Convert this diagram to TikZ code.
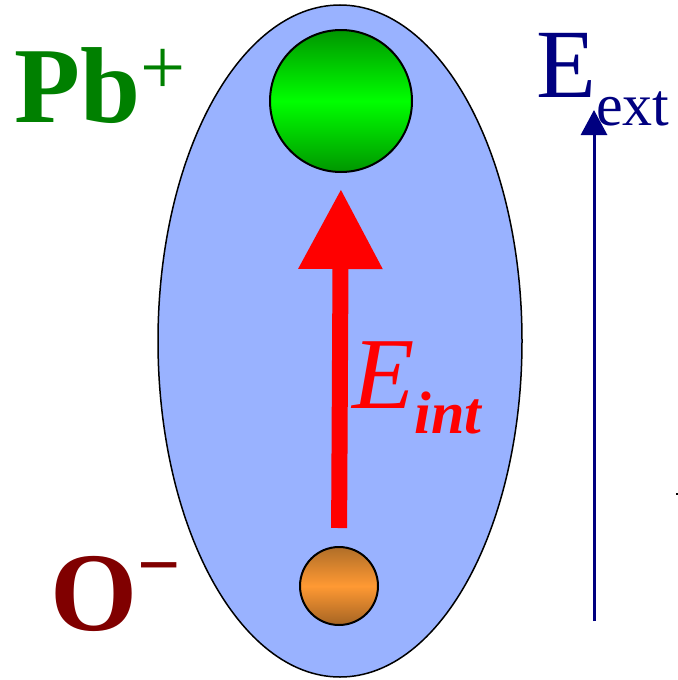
\documentclass[tikz,border=0pt]{standalone}
\usepackage{fontspec}
\setmainfont{Liberation Serif}
\usetikzlibrary{arrows.meta}
\definecolor{cellblue}{RGB}{153,178,255}
\definecolor{pbgreen}{RGB}{0,128,0}
\definecolor{oxred}{RGB}{128,0,0}
\definecolor{extnavy}{RGB}{0,0,128}
\begin{document}
\begin{tikzpicture}[x=0.5pt,y=-0.5pt,
    ion/.style={circle,draw=black,line width=1pt,inner sep=0pt},
    eint/.style={red,line width=8pt,-{Triangle[length=40pt,width=40pt]}},
    eext/.style={extnavy,line width=1.5pt,-{Triangle[length=12.5pt,width=13pt]}}]
    \useasboundingbox (0,0) rectangle (678,680);

    % Dipol-Zelle und Ionen.
    \draw[fill=cellblue,line width=0.75pt] (340,341) ellipse (182 and 336);
    \node[ion,minimum size=71pt,top color={rgb,255:red,0;green,150;blue,0},
        bottom color={rgb,255:red,0;green,150;blue,0},
        middle color={rgb,255:red,0;green,255;blue,0}] (pbion) at (341,101) {};
    \node[ion,minimum size=39pt,top color={rgb,255:red,176;green,110;blue,40},
        bottom color={rgb,255:red,165;green,100;blue,35},
        middle color={rgb,255:red,255;green,153;blue,51}] (oion) at (339,586) {};

    \node[anchor=base west,inner sep=0pt,text=pbgreen,font=\fontsize{54}{54}\selectfont\bfseries]
        (pblabel) at (14,122) {Pb\raisebox{14pt}{\fontsize{40}{40}\selectfont\mdseries +}};
    \node[anchor=base west,inner sep=0pt,text=oxred,font=\fontsize{56}{56}\selectfont\bfseries]
        (olabel) at (50,630) {O\raisebox{20pt}{\fontsize{38}{38}\selectfont −}};

    % Inneres Feld.
    \draw[eint,shorten <=9pt,shorten >=8pt] (oion.north) -- (pbion.south);
    \node[anchor=base west,inner sep=0pt,text=red,font=\fontsize{51}{51}\selectfont\itshape]
        (eintlabel) at (352,408) {E\raisebox{-12.5pt}{\fontsize{30}{30}\selectfont\bfseries int}};

    % Aeusseres Feld.
    \coordinate (extfoot) at (594,621);
    \coordinate (exttip) at (594,110);
    \draw[eext] (extfoot) -- (exttip);
    \node[anchor=base west,inner sep=0pt,text=extnavy,font=\fontsize{49}{49}\selectfont]
        (eextlabel) at (536,97) {E\raisebox{-14pt}{\fontsize{30}{30}\selectfont ext}};

    \fill (676,493) rectangle (678,495);
\end{tikzpicture}
\end{document}
